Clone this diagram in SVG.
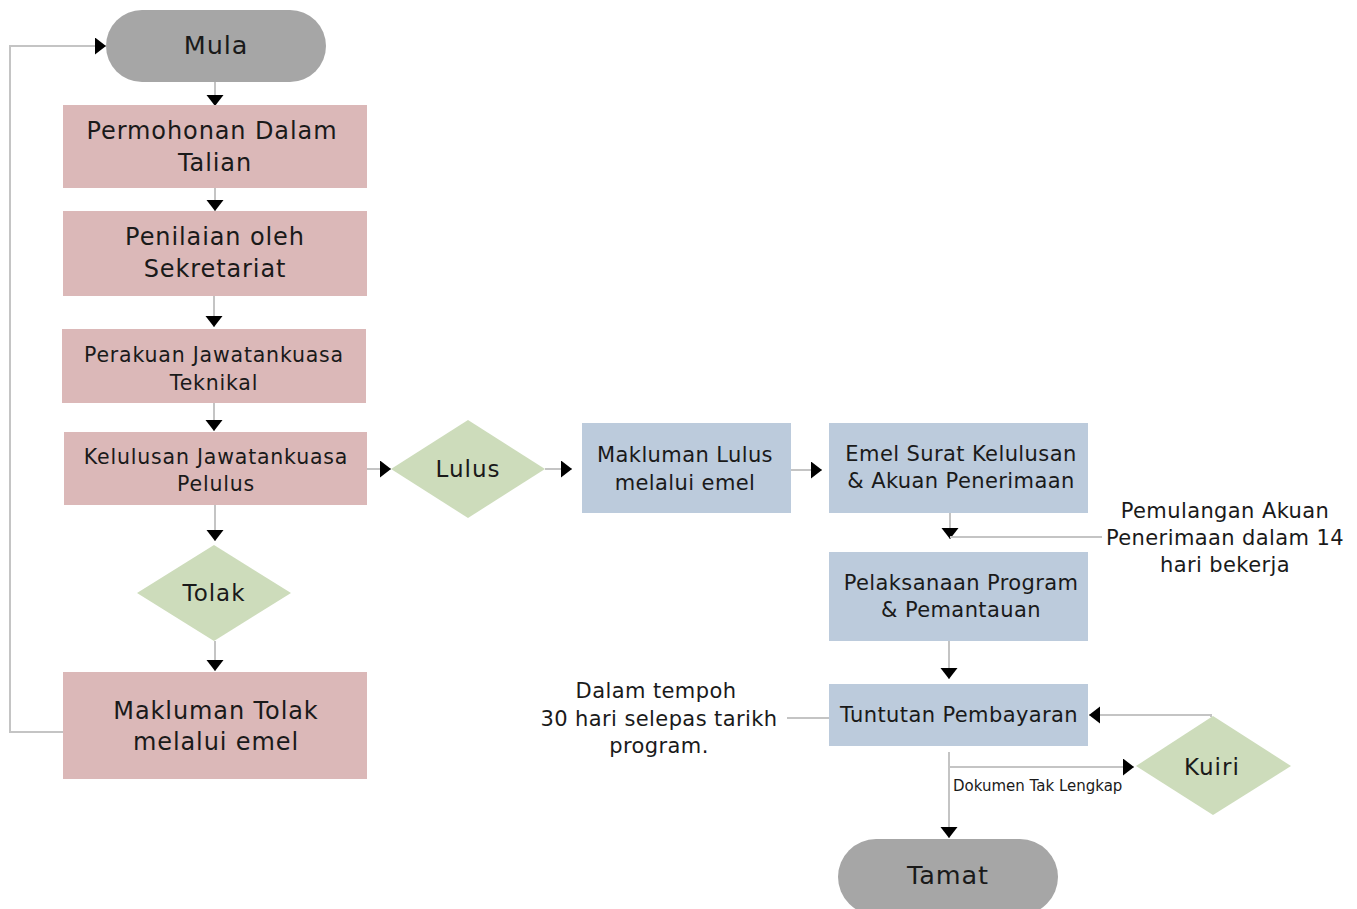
<svg xmlns="http://www.w3.org/2000/svg" width="1357" height="909" viewBox="0 0 1357 909">
<defs>
<marker id="ah" markerWidth="12" markerHeight="18" refX="11" refY="8.5" orient="auto" markerUnits="userSpaceOnUse">
<path d="M0,0 L11,8.5 L0,17 Z" fill="#000"/>
</marker>
<style>
.term{fill:#a6a6a6}
.red{fill:#dbb8b8}
.blue{fill:#bccbdc}
.dia{fill:#cddcbb}
.c{stroke:#c4c4c4;stroke-width:2;fill:none}
.t{font-family:"DejaVu Sans","Liberation Sans",sans-serif;fill:#1a1a1a;text-anchor:middle}
.big{font-size:24px;letter-spacing:0.9px}
.term-t{font-size:25.5px;letter-spacing:0.9px}
.mid{font-size:20.5px;letter-spacing:0.8px}
.dt{font-size:23px;letter-spacing:1px}
.rt{font-size:21px;letter-spacing:0.4px}
.sm{font-size:15px;text-anchor:start}
</style>
</defs>
<rect width="1357" height="909" fill="#fff"/>
<g id="connectors">
<path class="c" d="M215,82 V106" marker-end="url(#ah)"/>
<path class="c" d="M215,188 V211" marker-end="url(#ah)"/>
<path class="c" d="M214,296 V327" marker-end="url(#ah)"/>
<path class="c" d="M214,403 V431" marker-end="url(#ah)"/>
<path class="c" d="M215,505 V541" marker-end="url(#ah)"/>
<path class="c" d="M215,641 V671" marker-end="url(#ah)"/>
<path class="c" d="M63,732 H10 V46 H106" marker-end="url(#ah)"/>
<path class="c" d="M367,469 H391" marker-end="url(#ah)"/>
<path class="c" d="M545,469 H572" marker-end="url(#ah)"/>
<path class="c" d="M791,470 H822" marker-end="url(#ah)"/>
<path class="c" d="M950,513 V539"  marker-end="url(#ah)"/>
<path class="c" d="M950,537 H1102"/>
<path class="c" d="M949,641 V679" marker-end="url(#ah)"/>
<path class="c" d="M787,718 H829"/>
<path class="c" d="M1211,717 V715 H1089" marker-end="url(#ah)"/>
<path class="c" d="M949,752 V838" marker-end="url(#ah)"/>
<path class="c" d="M949,767 H1134" marker-end="url(#ah)"/>
<text class="t sm" x="953" y="791">Dokumen Tak Lengkap</text>
</g>
<g id="mula"><rect class="term" x="106" y="10" width="220" height="72" rx="36"/><text class="t term-t" x="216" y="54">Mula</text></g>
<g id="permohonan"><rect class="red" x="63" y="105" width="304" height="83"/><text class="t big" x="212" y="139">Permohonan Dalam</text><text class="t big" x="215" y="171">Talian</text></g>
<g id="penilaian"><rect class="red" x="63" y="211" width="304" height="85"/><text class="t big" x="215" y="245">Penilaian oleh</text><text class="t big" x="215" y="277">Sekretariat</text></g>
<g id="perakuan"><rect class="red" x="62" y="329" width="304" height="74"/><text class="t mid" x="214" y="362">Perakuan Jawatankuasa</text><text class="t mid" x="214" y="390">Teknikal</text></g>
<g id="kelulusan"><rect class="red" x="64" y="432" width="303" height="73"/><text class="t mid" x="216" y="464">Kelulusan Jawatankuasa</text><text class="t mid" x="216" y="491">Pelulus</text></g>
<g id="tolak"><polygon class="dia" points="214,545 291,593 214,641 137,593"/><text class="t dt" x="214" y="601">Tolak</text></g>
<g id="makluman-tolak"><rect class="red" x="63" y="672" width="304" height="107"/><text class="t big" x="216" y="719">Makluman Tolak</text><text class="t big" x="216" y="750">melalui emel</text></g>
<g id="lulus"><polygon class="dia" points="468,420 545,469 468,518 391,469"/><text class="t dt" x="468" y="477">Lulus</text></g>
<g id="makluman-lulus"><rect class="blue" x="582" y="423" width="209" height="90"/><text class="t rt" x="685" y="462">Makluman Lulus</text><text class="t rt" x="685" y="490">melalui emel</text></g>
<g id="emel"><rect class="blue" x="829" y="423" width="259" height="90"/><text class="t rt" x="961" y="461">Emel Surat Kelulusan</text><text class="t rt" x="961" y="488">&amp; Akuan Penerimaan</text></g>
<g id="pemulangan-label"><text class="t rt" x="1225" y="518">Pemulangan Akuan</text><text class="t rt" x="1225" y="545">Penerimaan dalam 14</text><text class="t rt" x="1225" y="572">hari bekerja</text></g>
<g id="pelaksanaan"><rect class="blue" x="829" y="552" width="259" height="89"/><text class="t rt" x="961" y="590">Pelaksanaan Program</text><text class="t rt" x="961" y="617">&amp; Pemantauan</text></g>
<g id="tuntutan"><rect class="blue" x="829" y="684" width="259" height="62"/><text class="t rt" x="959" y="722">Tuntutan Pembayaran</text></g>
<g id="tempoh-label"><text class="t rt" x="656" y="698">Dalam tempoh</text><text class="t rt" x="659" y="726">30 hari selepas tarikh</text><text class="t rt" x="659" y="753">program.</text></g>
<g id="kuiri"><polygon class="dia" points="1213,716 1291,766 1213,815 1136,766"/><text class="t dt" x="1212" y="775">Kuiri</text></g>
<g id="tamat"><rect class="term" x="838" y="839" width="220" height="76" rx="38"/><text class="t term-t" x="948" y="884">Tamat</text></g>
</svg>
